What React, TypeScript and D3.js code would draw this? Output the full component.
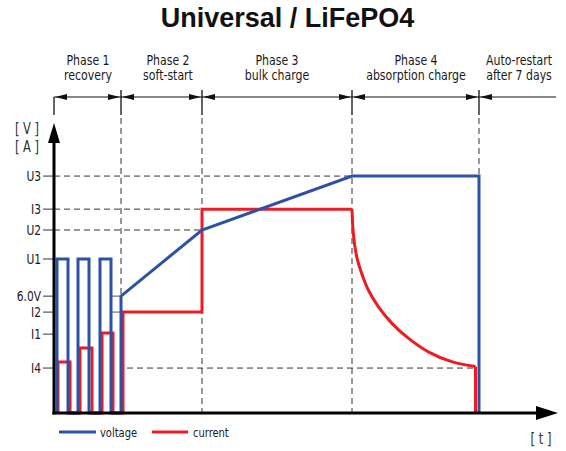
import React from 'react';
import * as d3 from 'd3';

const W = 566;
const H = 451;

// reference levels on the vertical axis
const levelNames = ['U3', 'I3', 'U2', 'U1', '6.0V', 'I2', 'I1', 'I4'];
const levelValues = [81.7, 70.3, 63.1, 53.1, 40.3, 34.8, 27.2, 15.5];

// phases (time units)
const phaseBounds = [0, 13.4, 29.6, 59.6, 85];
const phaseTitles = ['Phase 1', 'Phase 2', 'Phase 3', 'Phase 4', 'Auto-restart'];
const phaseSubtitles = ['recovery', 'soft-start', 'bulk charge', 'absorption charge', 'after 7 days'];
const phaseLabelT = [6.8, 22.8, 44.6, 72.4, 93];

// voltage curve
const voltageT = [0.6, 0.6, 2.8, 2.8, 4.8, 4.8, 7.0, 7.0, 9.2, 9.2, 11.4, 11.4, 13.4, 13.4, 29.6, 59.6, 85, 85];
const voltageV = [0, 53.1, 53.1, 0, 0, 53.1, 53.1, 0, 0, 53.1, 53.1, 0, 0, 40.3, 63.1, 81.7, 81.7, 0];

// current: pulses, soft-start, bulk
const currentT = [0.8, 0.8, 3.2, 3.2, 5.2, 5.2, 7.6, 7.6, 9.6, 9.6, 11.8, 11.8, 13.8, 13.8, 29.6, 29.6, 59.6];
const currentA = [0, 17.6, 17.6, 0, 0, 22.4, 22.4, 0, 0, 27.6, 27.6, 0, 0, 34.8, 34.8, 70.3, 70.3];
// current: absorption decay
const decayT = [59.6, 59.86, 60.54, 61.54, 62.86, 64.86, 67.54, 70.86, 74.86, 79.54, 84.3];
const decayA = [70.3, 62.0, 53.9, 48.1, 42.4, 36.7, 31.0, 25.8, 21.1, 17.7, 16.0];
const tailT = [84.3, 84.3];
const tailA = [16.0, 0];

// dashed guides
const guideLevel = [81.7, 70.3, 63.1, 15.5];
const guideFrom = [0, 0, 0, 14.6];
const guideTo = [59.6, 29.6, 29.6, 84.3];
// short marks at the soft-start entry
const markLevel = [40.3, 34.8];
const markFrom = [11.4, 11.4];
const markTo = [13.4, 13.4];

const BLUE = '#2b52a6';
const RED = '#ed1c24';
const NARROW = "'DejaVu Sans Condensed', 'DejaVu Sans', sans-serif";

function NText({ x, y, sx, size, anchor = 'middle', fill = '#1a1a1a', dy, children }: {
  x: number; y: number; sx: number; size: number; anchor?: string; fill?: string; dy?: string; children: React.ReactNode;
}) {
  return (
    <text transform={`translate(${x},${y}) scale(${sx},1)`} textAnchor={anchor} fontFamily={NARROW}
      fontSize={size} fill={fill} dy={dy}>{children}</text>
  );
}

export default function App() {
  const x = d3.scaleLinear().domain([0, 100]).range([54, 554]);
  const y = d3.scaleLinear().domain([0, 100]).range([413, 123]);
  const line = d3.line<[number, number]>().x(d => x(d[0])).y(d => y(d[1]));
  const smooth = d3.line<[number, number]>().x(d => x(d[0])).y(d => y(d[1])).curve(d3.curveCatmullRom.alpha(0.5));

  const zip = (a: number[], b: number[]) => a.map((v, i) => [v, b[i]] as [number, number]);

  const dimY = 97;
  const axisX = x(0);
  const axisY = y(0);
  const yTip = y(100);
  const xTip = x(100.8);

  const arrow = (tip: number, dir: number) =>
    `M${tip},${dimY} L${tip + dir * 12},${dimY - 3} L${tip + dir * 12},${dimY + 3} Z`;

  return (
    <div style={{ position: 'absolute', left: 0, top: 0 }}>
      <svg width={W} height={H} style={{ display: 'block', background: '#fff' }}>
        <text x={287.5} y={27} textAnchor="middle" fontFamily="'Liberation Sans', Arial, sans-serif"
          fontWeight="bold" fontSize={27} fill="#111">Universal / LiFePO4</text>

        {/* phase labels */}
        {phaseTitles.map((t, i) => (
          <g key={t}>
            <NText x={x(phaseLabelT[i])} y={65} sx={0.87} size={14}>{t}</NText>
            <NText x={x(phaseLabelT[i])} y={80} sx={0.87} size={14}>{phaseSubtitles[i]}</NText>
          </g>
        ))}

        {/* dimension line */}
        <line x1={axisX} x2={556} y1={dimY} y2={dimY} stroke="#111" strokeWidth={1.2} />
        {phaseBounds.map((b, i) => (
          <g key={'pb' + i}>
            <line x1={x(b)} x2={x(b)} y1={i === 0 ? dimY : 90} y2={115} stroke="#111" strokeWidth={1.3} />
            <path d={arrow(x(b) + 1, 1)} fill="#111" />
            {i > 0 && <path d={arrow(x(b) - 1, -1)} fill="#111" />}
            {i > 0 && (
              <line x1={x(b)} x2={x(b)} y1={118} y2={axisY} stroke="#333" strokeWidth={1} strokeDasharray="6,4" />
            )}
          </g>
        ))}

        {/* dashed guides */}
        {guideLevel.map((v, i) => (
          <line key={'g' + i} x1={x(guideFrom[i])} x2={x(guideTo[i])} y1={y(v)} y2={y(v)}
            stroke="#333" strokeWidth={1} strokeDasharray="6,4" />
        ))}
        {markLevel.map((v, i) => (
          <line key={'m' + i} x1={x(markFrom[i])} x2={x(markTo[i])} y1={y(v)} y2={y(v)}
            stroke="#555" strokeWidth={1} />
        ))}

        {/* current */}
        <g fill="none" stroke={RED} strokeWidth={3}>
          <path d={line(zip(currentT, currentA)) || ''} />
          <path d={smooth(zip(decayT, decayA)) || ''} />
          <path d={line(zip(tailT, tailA)) || ''} />
        </g>

        {/* voltage */}
        <path d={line(zip(voltageT, voltageV)) || ''} fill="none" stroke={BLUE} strokeWidth={3} />

        {/* level ticks and labels */}
        {levelNames.map((n, i) => (
          <g key={n}>
            <line x1={43} x2={axisX} y1={y(levelValues[i])} y2={y(levelValues[i])} stroke="#333" strokeWidth={1} />
            <NText x={41} y={y(levelValues[i])} dy="0.36em" anchor="end" sx={0.88} size={13.5}>{n}</NText>
          </g>
        ))}

        {/* axes */}
        <line x1={axisX} x2={axisX} y1={axisY + 1.5} y2={yTip + 14} stroke="#000" strokeWidth={3} />
        <path d={`M${axisX},${yTip} L${axisX - 6},${yTip + 20} L${axisX + 6},${yTip + 20} Z`} fill="#000" />
        <line x1={axisX - 1.5} x2={xTip - 14} y1={axisY} y2={axisY} stroke="#000" strokeWidth={3} />
        <path d={`M${xTip},${axisY} L${xTip - 22},${axisY - 7} L${xTip - 22},${axisY + 7} Z`} fill="#000" />

        <NText x={27} y={134} sx={0.8} size={16} fill="#333">[ V ]</NText>
        <NText x={27} y={152} sx={0.8} size={16} fill="#333">[ A ]</NText>
        <NText x={541} y={444} sx={0.8} size={16} fill="#333">[ t ]</NText>

        {/* legend */}
        <line x1={59} x2={96} y1={432} y2={432} stroke={BLUE} strokeWidth={3} />
        <NText x={100} y={437} anchor="start" sx={0.85} size={13}>voltage</NText>
        <line x1={152} x2={188} y1={432} y2={432} stroke={RED} strokeWidth={3} />
        <NText x={193} y={437} anchor="start" sx={0.85} size={13}>current</NText>
      </svg>
    </div>
  );
}
